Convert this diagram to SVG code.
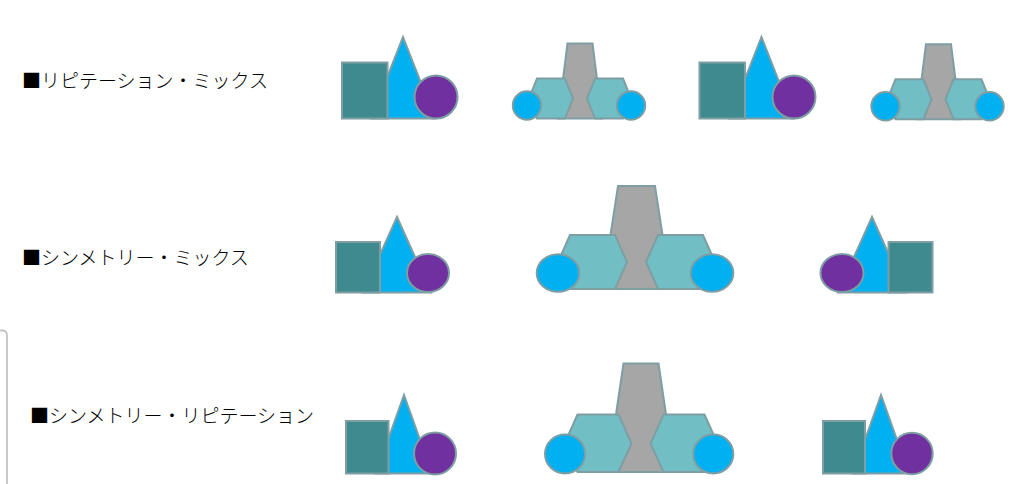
<svg xmlns="http://www.w3.org/2000/svg" width="1012" height="484" viewBox="0 0 1012 484">
<style>
.lbl{font-family:"Noto Sans CJK JP","Liberation Sans",sans-serif;font-size:19px;font-weight:300;fill:#000}
.sh{stroke:#7E9EA3;stroke-width:2;stroke-linejoin:miter}
.sq{fill:#3F8A8F}
.tri{fill:#00B0F0}
.pc{fill:#7030A0}
.hx{fill:#71BEC4}
.gr{fill:#A6A6A6}
.bc{fill:#00B0F0}
</style>
<rect x="0" y="0" width="1012" height="484" fill="#fff"/>
<path d="M0,330.5 H2 Q7,330.5 7,335.5 V484" fill="none" stroke="#c4c4c4" stroke-width="1.8"/>

<g id="label-row1"><text class="lbl" x="22" y="88">■リピテーション・ミックス</text></g>
<g id="label-row2"><text class="lbl" x="22" y="265">■シンメトリー・ミックス</text></g>
<g id="label-row3"><text class="lbl" x="30" y="423">■シンメトリー・リピテーション</text></g>

<g id="row1-shapes-a">
<polygon class="sh tri" points="403,37 435,118.5 371,118.5"/>
<rect class="sh sq" x="342" y="62.5" width="45.5" height="56"/>
<circle class="sh pc" cx="436" cy="97" r="21.5"/>
</g>
<g id="row1-hex-a">
<polygon class="sh gr" points="567.5,43.5 592.5,43.5 602,118.5 558,118.5"/>
<polygon class="sh hx" points="537,78.5 565,78.5 573,98.5 565,118.5 537,118.5 529,98.5"/>
<polygon class="sh hx" points="595,78.5 623,78.5 631,98.5 623,118.5 595,118.5 587,98.5"/>
<circle class="sh bc" cx="527" cy="105.5" r="14.2"/>
<circle class="sh bc" cx="631" cy="105.5" r="14.2"/>
</g>
<g id="row1-shapes-b">
<polygon class="sh tri" points="761.5,37 793.5,118.5 729.5,118.5"/>
<rect class="sh sq" x="699.5" y="62.5" width="45.5" height="56"/>
<circle class="sh pc" cx="794" cy="97" r="21.5"/>
</g>
<g id="row1-hex-b" transform="translate(358.5,0.8)">
<polygon class="sh gr" points="567.5,43.5 592.5,43.5 602,118.5 558,118.5"/>
<polygon class="sh hx" points="537,78.5 565,78.5 573,98.5 565,118.5 537,118.5 529,98.5"/>
<polygon class="sh hx" points="595,78.5 623,78.5 631,98.5 623,118.5 595,118.5 587,98.5"/>
<circle class="sh bc" cx="527" cy="105.5" r="14.2"/>
<circle class="sh bc" cx="631" cy="105.5" r="14.2"/>
</g>

<g id="row2-shapes-left">
<polygon class="sh tri" points="397,217 431,292.5 363,292.5"/>
<rect class="sh sq" x="336" y="242" width="44" height="50.5"/>
<ellipse class="sh pc" cx="428" cy="273" rx="21" ry="19"/>
</g>
<g id="row2-hex">
<polygon class="sh gr" points="618,186 655,186 670.8,289 602.2,289"/>
<polygon class="sh hx" points="570,235 615,235 627,262 615,289 570,289 558,262"/>
<polygon class="sh hx" points="658,235 703,235 715,262 703,289 658,289 646,262"/>
<ellipse class="sh bc" cx="558" cy="273" rx="21.3" ry="18.8"/>
<ellipse class="sh bc" cx="712" cy="273" rx="21.3" ry="18.8"/>
</g>
<g id="row2-shapes-right">
<polygon class="sh tri" points="872,217 906,292.5 838,292.5"/>
<rect class="sh sq" x="888.5" y="242" width="44" height="50.5"/>
<ellipse class="sh pc" cx="842" cy="273" rx="21.5" ry="19"/>
</g>

<g id="row3-shapes-left">
<polygon class="sh tri" points="404,395 432,473.5 376,473.5"/>
<rect class="sh sq" x="346" y="421" width="42.5" height="52.5"/>
<circle class="sh pc" cx="435" cy="453.5" r="21"/>
</g>
<g id="row3-hex">
<polygon class="sh gr" points="623.5,363.5 658.5,363.5 674.5,472 607.5,472"/>
<polygon class="sh hx" points="577.5,414.5 618.5,414.5 631.5,443.5 618.5,472 577.5,472 564.5,443.5"/>
<polygon class="sh hx" points="663.5,414.5 704.5,414.5 717.5,443.5 704.5,472 663.5,472 650.5,443.5"/>
<ellipse class="sh bc" cx="565" cy="454" rx="20" ry="19.5"/>
<ellipse class="sh bc" cx="713.3" cy="454" rx="20" ry="19.5"/>
</g>
<g id="row3-shapes-right">
<polygon class="sh tri" points="881,395 909,473.5 853,473.5"/>
<rect class="sh sq" x="823" y="421" width="42" height="52.5"/>
<circle class="sh pc" cx="912" cy="453.5" r="20.7"/>
</g>
</svg>
